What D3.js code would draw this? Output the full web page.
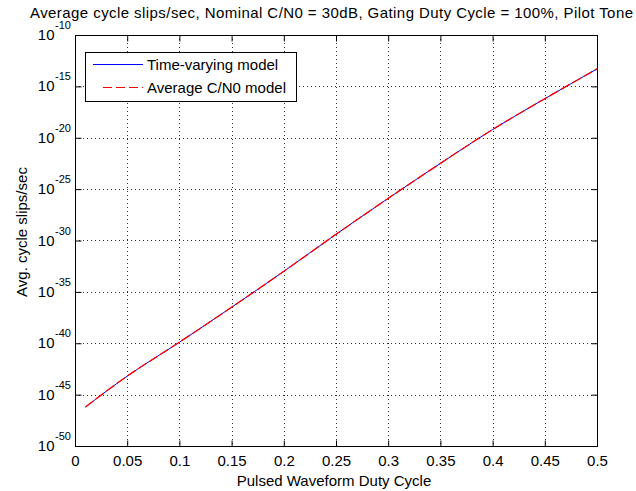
<!DOCTYPE html>
<html>
<head>
<meta charset="utf-8">
<script src="https://cdn.jsdelivr.net/npm/d3@7"></script>
<style>
  html, body { margin: 0; padding: 0; background: #fff; }
  svg { display: block; }
  text { font-family: "Liberation Sans", Arial, Helvetica, sans-serif; fill: #000; }
</style>
</head>
<body>
<svg id="chart" width="636" height="491"></svg>
<script>
// Pulsed waveform duty cycle samples
const dutyCycle = [0.01, 0.05, 0.10, 0.15, 0.20, 0.25, 0.30, 0.35, 0.40, 0.45, 0.50];
// Average cycle slips per second, time-varying C/N0 model
const timeVarying = [6.3e-47, 6.3e-44, 1.26e-40, 3.2e-37, 1.0e-33, 4.0e-30, 1.26e-26, 3.2e-23, 6.3e-20, 6.3e-17, 5.0e-14];
// Average cycle slips per second, average C/N0 model
const averageCN0 = [6.3e-47, 6.3e-44, 1.26e-40, 3.2e-37, 1.0e-33, 4.0e-30, 1.26e-26, 3.2e-23, 6.3e-20, 6.3e-17, 5.0e-14];

const xTicks = [0, 0.05, 0.1, 0.15, 0.2, 0.25, 0.3, 0.35, 0.4, 0.45, 0.5];
const xTickLabels = ["0", "0.05", "0.1", "0.15", "0.2", "0.25", "0.3", "0.35", "0.4", "0.45", "0.5"];
const yTickExponents = [-10, -15, -20, -25, -30, -35, -40, -45, -50];
const seriesNames = ["Time-varying model", "Average C/N0 model"];

const titleText = "Average cycle slips/sec, Nominal C/N0 = 30dB, Gating Duty Cycle = 100%, Pilot Tone";
const xLabel = "Pulsed Waveform Duty Cycle";
const yLabel = "Avg. cycle slips/sec";

const svg = d3.select("#chart");
const plot = { left: 75, top: 35, right: 597, bottom: 446 };

const x = d3.scaleLinear().domain([0, 0.5]).range([plot.left, plot.right]);
const y = d3.scaleLog().domain([1e-50, 1e-10]).range([plot.bottom, plot.top]);

const tickLen = 6;
const fs = 15;

// dotted grid
const grid = svg.append("g").attr("stroke", "#000").attr("stroke-width", 1)
  .attr("stroke-dasharray", "1,3").attr("opacity", 0.8);
xTicks.slice(1, -1).forEach(t => {
  grid.append("line").attr("x1", Math.round(x(t)) + 0.5).attr("x2", Math.round(x(t)) + 0.5)
    .attr("y1", plot.top).attr("y2", plot.bottom);
});
yTickExponents.slice(1, -1).forEach(e => {
  const yy = Math.round(y(Math.pow(10, e))) + 0.5;
  grid.append("line").attr("x1", plot.left).attr("x2", plot.right).attr("y1", yy).attr("y2", yy);
});

// axes, ticks pointing inward on all four sides
const fmtX = (d, i) => xTickLabels[i];
const bottomAxis = d3.axisBottom(x).tickValues(xTicks).tickSize(-tickLen).tickPadding(8).tickFormat(fmtX);
const topAxis = d3.axisTop(x).tickValues(xTicks).tickSize(-tickLen).tickFormat("");
const yVals = yTickExponents.map(e => Math.pow(10, e));
const leftAxis = d3.axisLeft(y).tickValues(yVals).tickSize(-tickLen).tickFormat("");
const rightAxis = d3.axisRight(y).tickValues(yVals).tickSize(-tickLen).tickFormat("");

function styleAxis(g) {
  g.select("path.domain").remove();
  g.selectAll(".tick line").attr("stroke", "#000");
  g.selectAll("text").attr("font-family", null).attr("font-size", fs).attr("fill", "#000");
}

const gb = svg.append("g").attr("transform", `translate(0,${plot.bottom + 0.5})`).call(bottomAxis).call(styleAxis);
gb.selectAll("text").attr("dy", null).attr("y", 19);
svg.append("g").attr("transform", `translate(0,${plot.top + 0.5})`).call(topAxis).call(styleAxis);
svg.append("g").attr("transform", `translate(${plot.left + 0.5},0)`).call(leftAxis).call(styleAxis);
svg.append("g").attr("transform", `translate(${plot.right + 0.5},0)`).call(rightAxis).call(styleAxis);

// axes box
svg.append("rect").attr("x", plot.left + 0.5).attr("y", plot.top + 0.5)
  .attr("width", plot.right - plot.left).attr("height", plot.bottom - plot.top)
  .attr("fill", "none").attr("stroke", "#000").attr("stroke-width", 1);

// y tick labels: 10 with superscript exponent
const yLab = svg.append("g");
yTickExponents.forEach(e => {
  const yy = y(Math.pow(10, e));
  yLab.append("text").attr("x", 54.5).attr("y", yy + 5)
    .attr("text-anchor", "end").attr("font-size", fs).text("10");
  yLab.append("text").attr("x", 55).attr("y", yy - 6)
    .attr("font-size", 11).text(String(e));
});

// series lines
const line = d3.line().x((d, i) => x(dutyCycle[i])).y(d => y(d)).curve(d3.curveMonotoneX);
svg.append("path").datum(timeVarying).attr("d", line)
  .attr("fill", "none").attr("stroke", "#0000ff").attr("stroke-width", 1);
svg.append("path").datum(averageCN0).attr("d", line)
  .attr("fill", "none").attr("stroke", "#ff0000").attr("stroke-width", 1.3)
  .attr("stroke-dasharray", "10,3");

// legend
const lg = svg.append("g");
lg.append("rect").attr("x", 85.5).attr("y", 52.5).attr("width", 211).attr("height", 49)
  .attr("fill", "#fff").attr("stroke", "#000").attr("stroke-width", 1);
lg.append("line").attr("x1", 93).attr("x2", 143).attr("y1", 64.5).attr("y2", 64.5)
  .attr("stroke", "#0000ff").attr("stroke-width", 1.2);
lg.append("line").attr("x1", 103).attr("x2", 143).attr("y1", 87.5).attr("y2", 87.5)
  .attr("stroke", "#ff0000").attr("stroke-width", 1.2).attr("stroke-dasharray", "9,4");
lg.append("text").attr("x", 147).attr("y", 70).attr("font-size", fs).text(seriesNames[0]);
lg.append("text").attr("x", 147).attr("y", 93).attr("font-size", fs).text(seriesNames[1]);

// title and axis labels
svg.append("text").attr("x", 331.5).attr("y", 18)
  .attr("text-anchor", "middle").attr("font-size", fs)
  .attr("textLength", 603).attr("lengthAdjust", "spacing").text(titleText);
svg.append("text").attr("x", 334).attr("y", 486)
  .attr("text-anchor", "middle").attr("font-size", fs).text(xLabel);
svg.append("text").attr("transform", "translate(27,232) rotate(-90)")
  .attr("text-anchor", "middle").attr("font-size", fs).text(yLabel);
</script>
</body>
</html>
